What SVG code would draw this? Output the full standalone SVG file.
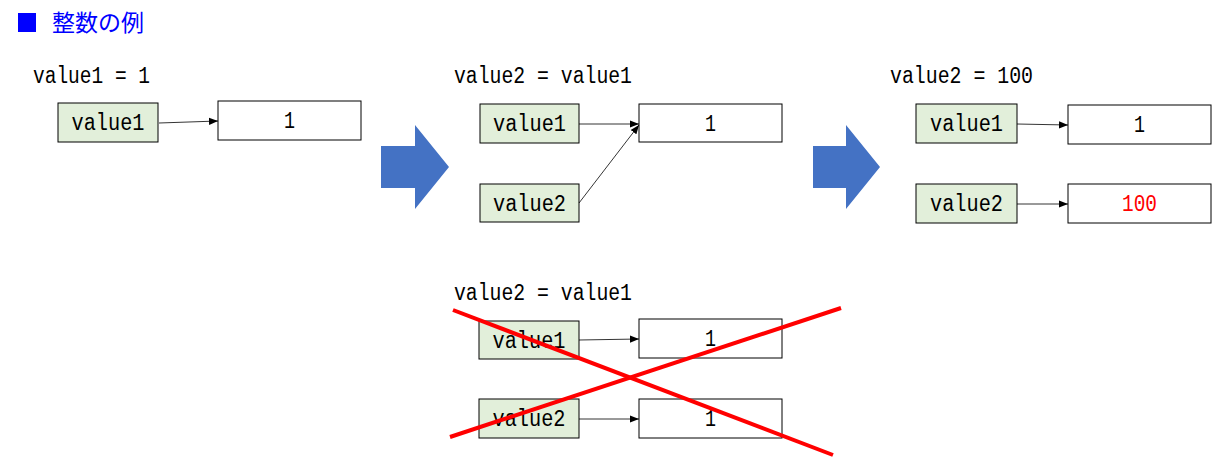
<svg xmlns="http://www.w3.org/2000/svg" width="1212" height="458" viewBox="0 0 1212 458">
  <style>
    .code { font-family: "Liberation Mono", "DejaVu Sans Mono", monospace; font-size: 23px; fill: #000; }
    .var rect { fill: #E2EFDA; stroke: #000; stroke-width: 1; }
    .val rect { fill: #FFFFFF; stroke: #000; stroke-width: 1; }
    .lbl { font-family: "Liberation Mono", "DejaVu Sans Mono", monospace; font-size: 23px; text-anchor: middle; dominant-baseline: central; fill: #000; }
    .red { fill: #FF0000; }
    .link { stroke: #000; stroke-width: 0.8; fill: none; marker-end: url(#tip); }
    .bigArrow { fill: #4472C4; }
    .cross { stroke: #FF0000; stroke-width: 4; stroke-linecap: butt; }
  </style>
  <defs>
    <marker id="tip" viewBox="0 0 10 10" refX="10" refY="5" markerWidth="9" markerHeight="9" markerUnits="userSpaceOnUse" orient="auto">
      <path d="M0,1 L10,5 L0,9 Z" fill="#000"/>
    </marker>
  </defs>

  <rect width="1212" height="458" fill="#FFFFFF"/>

  <!-- heading -->
  <g id="heading">
    <rect x="18" y="13" width="18" height="19" fill="#0000FF"/>
    <text x="52" y="31" font-family="'Noto Sans CJK JP', sans-serif" font-size="23" fill="#0000FF">整数の例</text>
  </g>

  <!-- step 1 -->
  <g id="step1">
    <text class="code" x="33" y="83" textLength="117" lengthAdjust="spacingAndGlyphs">value1 = 1</text>
    <g id="s1-var1" class="var"><rect x="58" y="103" width="100" height="39"/><text class="lbl" x="108" y="124" textLength="73" lengthAdjust="spacingAndGlyphs">value1</text></g>
    <g id="s1-val1" class="val"><rect x="218" y="101" width="143" height="39"/><text class="lbl" x="289.5" y="122" textLength="11" lengthAdjust="spacingAndGlyphs">1</text></g>
  </g>

  <!-- transition arrows -->
  <g id="next1"><path class="bigArrow" d="M381,146 H415 V125 L449,167 L415,209 V188 H381 Z"/></g>
  <g id="next2"><path class="bigArrow" d="M813,146 H846 V125 L880,167 L846,209 V188 H813 Z"/></g>

  <!-- step 2 -->
  <g id="step2">
    <text class="code" x="454" y="83" textLength="178" lengthAdjust="spacingAndGlyphs">value2 = value1</text>
    <g id="s2-var1" class="var"><rect x="480" y="104" width="99" height="39"/><text class="lbl" x="529.5" y="125" textLength="73" lengthAdjust="spacingAndGlyphs">value1</text></g>
    <g id="s2-var2" class="var"><rect x="480" y="184" width="99" height="38"/><text class="lbl" x="529.5" y="205" textLength="73" lengthAdjust="spacingAndGlyphs">value2</text></g>
    <g id="s2-val1" class="val"><rect x="639" y="104" width="143" height="38"/><text class="lbl" x="710.5" y="125" textLength="11" lengthAdjust="spacingAndGlyphs">1</text></g>
  </g>

  <!-- step 3 -->
  <g id="step3">
    <text class="code" x="890" y="83" textLength="143" lengthAdjust="spacingAndGlyphs">value2 = 100</text>
    <g id="s3-var1" class="var"><rect x="916" y="104" width="101" height="39"/><text class="lbl" x="966.5" y="125" textLength="73" lengthAdjust="spacingAndGlyphs">value1</text></g>
    <g id="s3-var2" class="var"><rect x="916" y="184" width="101" height="39"/><text class="lbl" x="966.5" y="205" textLength="73" lengthAdjust="spacingAndGlyphs">value2</text></g>
    <g id="s3-val1" class="val"><rect x="1068" y="105" width="143" height="39"/><text class="lbl" x="1139.5" y="126" textLength="11" lengthAdjust="spacingAndGlyphs">1</text></g>
    <g id="s3-val2" class="val"><rect x="1068" y="184" width="143" height="39"/><text class="lbl red" x="1139.5" y="205" textLength="35" lengthAdjust="spacingAndGlyphs">100</text></g>
  </g>

  <!-- wrong interpretation -->
  <g id="wrong">
    <text class="code" x="454" y="300" textLength="178" lengthAdjust="spacingAndGlyphs">value2 = value1</text>
    <g id="w-var1" class="var"><rect x="479" y="321" width="100" height="38"/><text class="lbl" x="529" y="342" textLength="73" lengthAdjust="spacingAndGlyphs">value1</text></g>
    <g id="w-var2" class="var"><rect x="479" y="399" width="100" height="39"/><text class="lbl" x="529" y="420" textLength="73" lengthAdjust="spacingAndGlyphs">value2</text></g>
    <g id="w-val1" class="val"><rect x="639" y="319" width="143" height="39"/><text class="lbl" x="710.5" y="340" textLength="11" lengthAdjust="spacingAndGlyphs">1</text></g>
    <g id="w-val2" class="val"><rect x="639" y="399" width="143" height="39"/><text class="lbl" x="710.5" y="420" textLength="11" lengthAdjust="spacingAndGlyphs">1</text></g>
  </g>

  <!-- connectors -->
  <g id="connectors">
    <line class="link" x1="159" y1="123" x2="218" y2="121"/>
    <line class="link" x1="579" y1="124" x2="639" y2="124"/>
    <line class="link" x1="579" y1="203" x2="639" y2="125"/>
    <line class="link" x1="1017" y1="124" x2="1068" y2="125"/>
    <line class="link" x1="1017" y1="204" x2="1068" y2="204"/>
    <line class="link" x1="579" y1="340" x2="639" y2="339"/>
    <line class="link" x1="579" y1="419" x2="639" y2="419"/>
  </g>

  <!-- cross-out -->
  <g id="cross">
    <line class="cross" x1="453" y1="310" x2="833" y2="455"/>
    <line class="cross" x1="450" y1="437" x2="841" y2="308"/>
  </g>
</svg>
